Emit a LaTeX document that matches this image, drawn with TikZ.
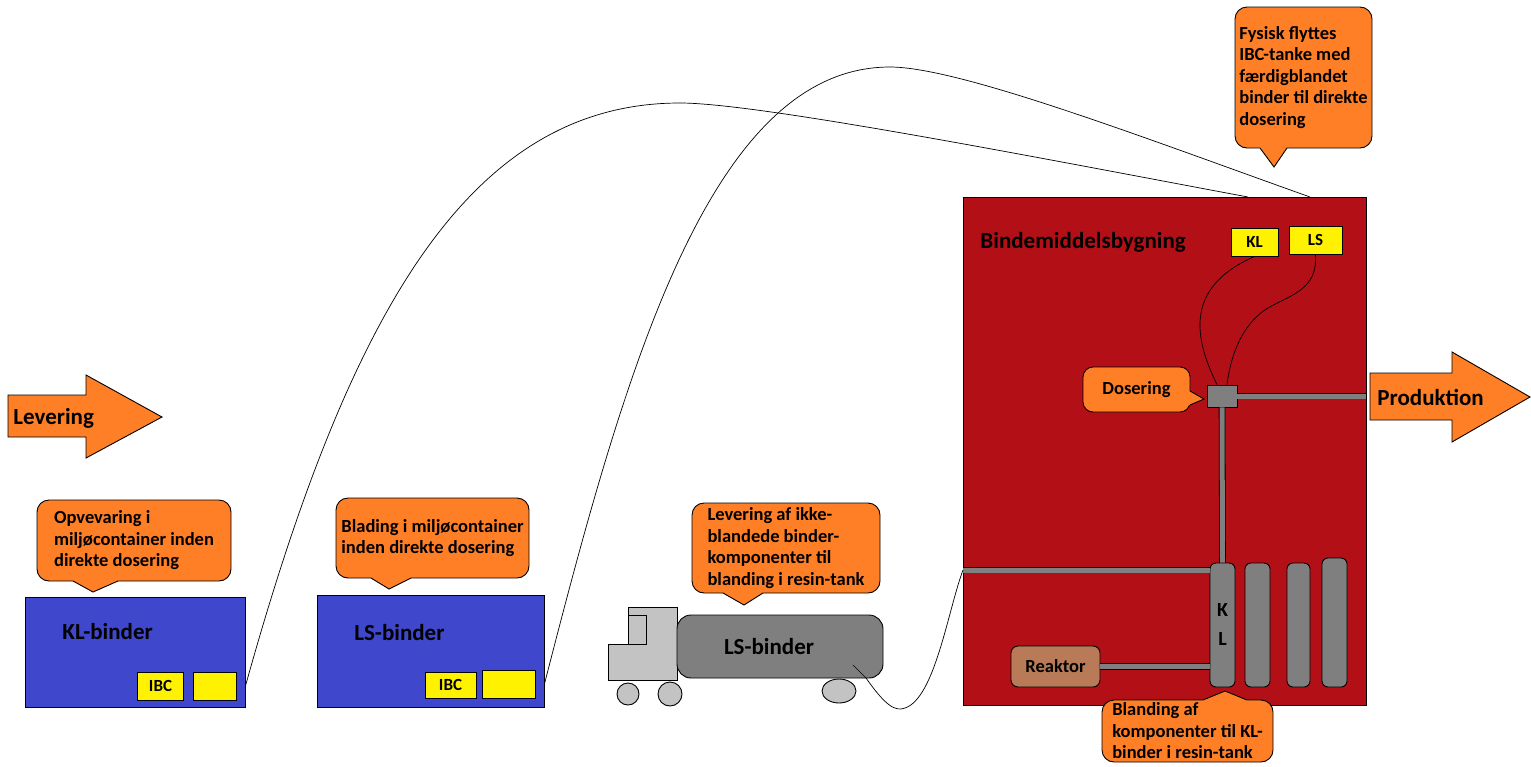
\documentclass[tikz,border=0pt]{standalone}
\usepackage{fontspec}
\setmainfont{Carlito}
\usetikzlibrary{calc}

\definecolor{bygred}{RGB}{178,15,23}
\definecolor{contblue}{RGB}{63,72,204}
\definecolor{calloutorange}{RGB}{255,127,39}
\definecolor{ibcyellow}{RGB}{255,242,0}
\definecolor{tankgray}{RGB}{127,127,127}
\definecolor{cabgray}{RGB}{195,195,195}
\definecolor{reakbrown}{RGB}{185,122,87}

\tikzset{
    cont/.style={draw, fill=contblue, inner sep=0pt},
    ibc/.style={draw, fill=ibcyellow, inner sep=0pt, font=\fontsize{17}{20}\selectfont\bfseries},
    bubble/.style={draw, fill=calloutorange, rounded corners=12pt, inner sep=0pt, align=left, font=\fontsize{18.5}{21.5}\selectfont\bfseries},
    bigtxt/.style={inner sep=0pt, font=\fontsize{23}{27}\selectfont\bfseries},
    tank/.style={draw, fill=tankgray, rounded corners=6pt, inner sep=0pt, align=center, font=\fontsize{20}{24}\selectfont\bfseries},
    pipe/.style={draw=black, line width=0.8pt, double=tankgray, double distance=5pt},
    wire/.style={draw, line width=0.7pt},
}

% pointer of a callout: base left, tip, base right, inward shift
\newcommand\bubtip[4]{%
    \fill[calloutorange] ($(#1)+(#4)$) -- (#1) -- (#2) -- (#3) -- ($(#3)+(#4)$) -- cycle;
    \draw (#1) -- (#2) -- (#3);}

\begin{document}
\begin{tikzpicture}[x=1pt, y=-1pt, line width=0.9pt]
    \useasboundingbox (0,0) rectangle (1531,766);

    % arrows
    \draw[fill=calloutorange] (8,395) -- (86,395) -- (86,375) -- (162,417) -- (86,458) -- (86,437) -- (8,437) -- cycle;
    \node[bigtxt, anchor=west] (levtxt) at (13,418) {Levering};
    \draw[fill=calloutorange] (1370,373) -- (1452,373) -- (1452,352) -- (1530,397) -- (1452,442) -- (1452,420) -- (1370,420) -- cycle;
    \node[bigtxt, anchor=west] (prodtxt) at (1377,397) {Produktion};

    % containers
    \node[cont, minimum width=220, minimum height=110] (klcont) at (135,652) {};
    \node[bigtxt, anchor=west] (kltxt) at (62,632) {KL-binder};
    \node[ibc, minimum width=46, minimum height=28] (ibca) at (160.5,686) {IBC};
    \node[ibc, minimum width=43, minimum height=28] (ibcb) at (214.5,686) {};
    \node[cont, minimum width=227, minimum height=112] (lscont) at (430.5,651) {};
    \node[bigtxt, anchor=west] (lstxt) at (354,633) {LS-binder};
    \node[ibc, minimum width=51, minimum height=26] (ibcc) at (450.5,685) {IBC};
    \node[ibc, minimum width=53, minimum height=28] (ibcd) at (508.5,684) {};

    % building
    \node[draw, fill=bygred, minimum width=403, minimum height=508, inner sep=0pt] (byg) at (1164.5,451) {};
    \node[bigtxt, anchor=west] (bygtxt) at (980,242) {Bindemiddelsbygning};
    \node[ibc, minimum width=47, minimum height=28] (klsm) at (1254.5,242) {KL};
    \node[ibc, minimum width=53, minimum height=28] (lssm) at (1315.5,240) {LS};
    \node[draw, fill=tankgray, minimum width=30, minimum height=22, inner sep=0pt] (dose) at (1222,396) {};
    \node[tank, minimum width=25, minimum height=124] (kltank) at (1222.5,625) {K\\[5pt]L};
    \node[tank, minimum width=25, minimum height=124] (tankb) at (1257.5,625) {};
    \node[tank, minimum width=23, minimum height=124] (tankc) at (1298.5,625) {};
    \node[tank, minimum width=25, minimum height=129] (tankd) at (1334.5,622.5) {};
    \node[draw, fill=reakbrown, rounded corners=7pt, minimum width=89, minimum height=41, inner sep=0pt,
          font=\fontsize{18.5}{21.5}\selectfont\bfseries] (reak) at (1055.5,666.5) {Reaktor};
    \coordinate (pipein) at (963,570);
    \draw[pipe] (dose.east) -- (dose.east -| byg.east);
    \draw[pipe] (dose.south) -- (kltank.north);
    \draw[pipe] (pipein) -- (pipein -| kltank.west);
    \draw[pipe] (reak.east) -- (reak.east -| kltank.west);
    \draw[wire] (klsm.south) .. controls (1190,285) and (1190,330) .. ($(dose.north)+(-5,0)$);
    \draw[wire] (lssm.south) .. controls (1318,290) and (1290,295) .. (1268,308)
        .. controls (1240,325) and (1230,360) .. ($(dose.north)+(5,0)$);

    % truck
    \draw[fill=cabgray] (628,694) circle (11);
    \draw[fill=cabgray] (670,694) circle (12);
    \draw[fill=cabgray] (839,691) ellipse (17 and 12);
    \draw[fill=cabgray] (608,680) -- (608,644) -- (628,644) -- (628,607) -- (677,607) -- (677,680) -- cycle;
    \draw (628,644) -- (628,615) -- (646,615) -- (646,644) -- cycle;
    \node[draw, fill=tankgray, rounded corners=14pt, minimum width=206, minimum height=63, inner sep=0pt] (lstank) at (780,646.5) {};
    \node[bigtxt] (tanktxt) at (769,647) {LS-binder};
    \coordinate (hose) at (853,665);
    \draw[wire] (hose) -- (866,678) .. controls (885,705) and (895,712) .. (905,708)
        .. controls (935,698) and (948,610) .. (pipein);

    % transport of IBC tanks
    \coordinate (topa) at (1248,197);
    \coordinate (topb) at (1310,197);
    \draw[wire] (klcont.east |- ibcb.east) .. controls (350,310) and (470,103) .. (680,103)
        .. controls (760,103) and (1050,160) .. (topa);
    \draw[wire] (lscont.east |- ibcd.east) .. controls (625,370) and (710,67) .. (890,67)
        .. controls (960,67) and (1150,140) .. (topb);

    % callouts
    \node[bubble, minimum width=194, minimum height=81] (opv) at (134,540.5) {Opvevaring i\\miljøcontainer inden\\direkte dosering};
    \bubtip{73,581}{93,592}{118,581}{0,-3}
    \node[bubble, minimum width=193, minimum height=80] (blad) at (432.5,538) {Blading i miljøcontainer\\inden direkte dosering};
    \bubtip{371,578}{389,589}{411,578}{0,-3}
    \node[bubble, minimum width=188, minimum height=90] (levcall) at (786,548) {Levering af ikke-\\blandede binder-\\komponenter til\\blanding i resin-tank};
    \bubtip{723,593}{744,605}{763,593}{0,-3}
    \node[bubble, minimum width=137, minimum height=141] (fysisk) at (1303.5,77.5) {Fysisk flyttes\\IBC-tanke med\\færdigblandet\\binder til direkte\\dosering};
    \bubtip{1260,148}{1274,167}{1287,148}{0,-3}
    \node[bubble, rounded corners=10pt, minimum width=107, minimum height=45] (doscall) at (1136.5,389.5) {Dosering};
    \bubtip{1190,391}{1204,399}{1190,405}{-3,0}
    \node[bubble, minimum width=171, minimum height=62] (blcall) at (1187.5,731) {Blanding af\\komponenter til KL-\\binder i resin-tank};
    \bubtip{1203,700}{1225,691}{1247,700}{0,3}
\end{tikzpicture}
\end{document}
